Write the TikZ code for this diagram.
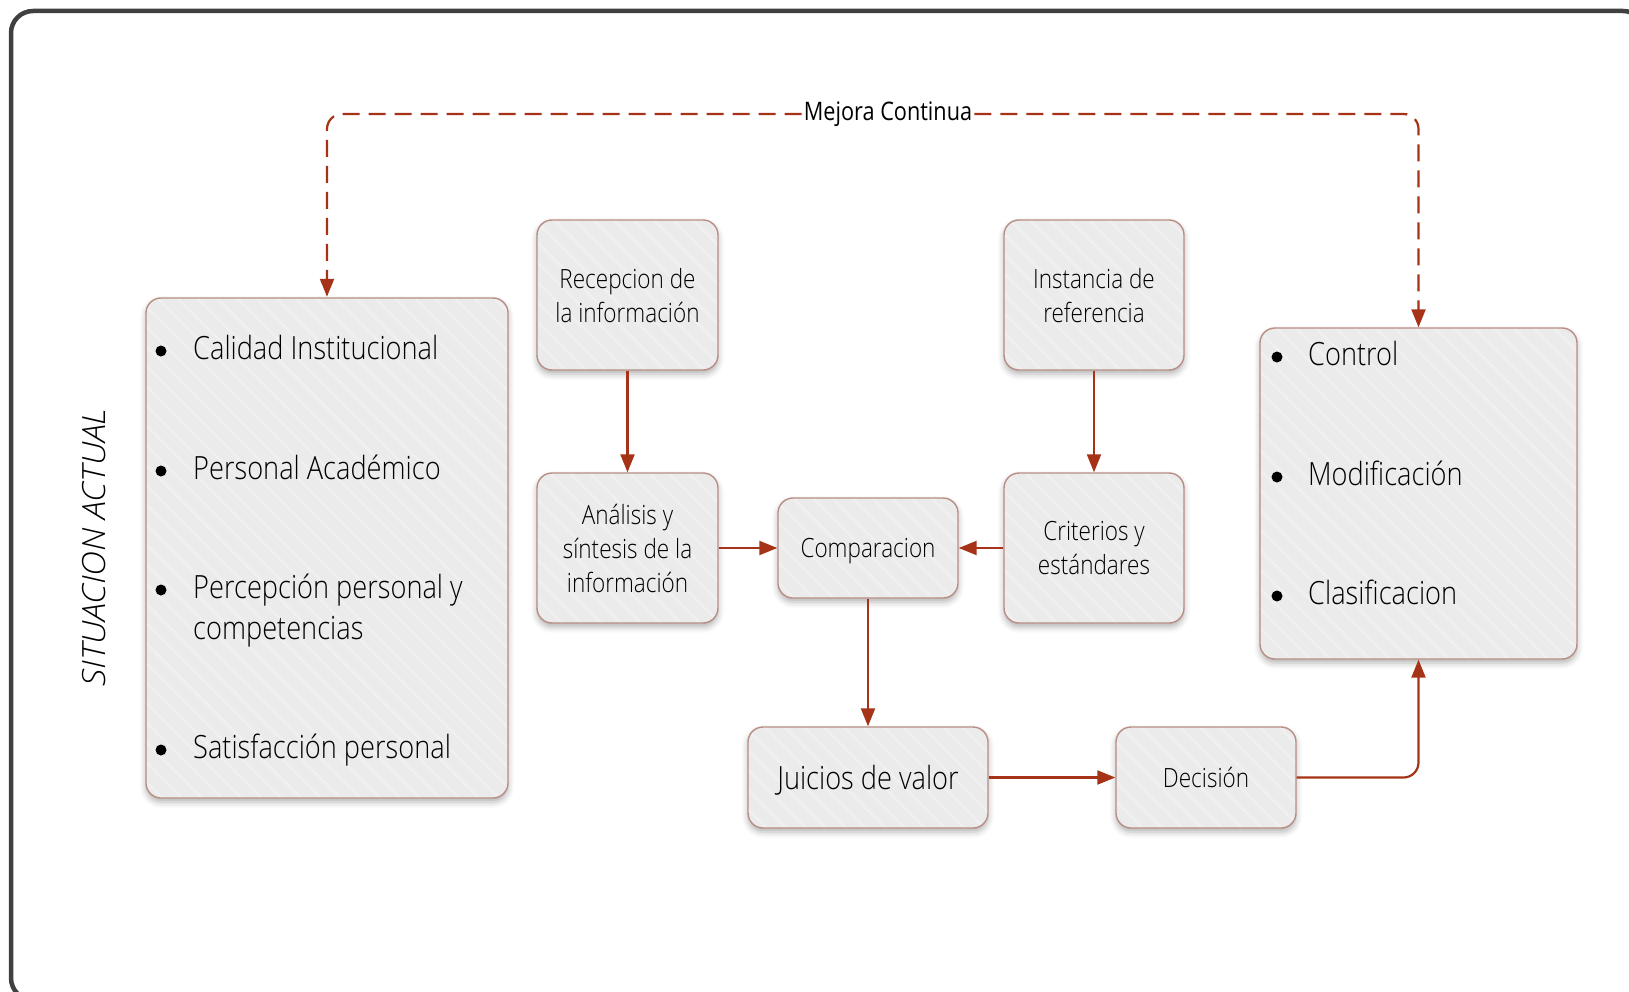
\documentclass[tikz,border=0pt]{standalone}
\usepackage{fontspec}
\setmainfont{Open Sans}[UprightFont=* Light, ItalicFont=* Light Italic, FakeStretch=0.85]
\newfontfamily\regfont{Open Sans}[FakeStretch=0.85]
\newfontfamily\rotfont{Open Sans}[UprightFont=* Light, ItalicFont=* Light Italic, FakeStretch=1.08]
\usetikzlibrary{arrows.meta,positioning,shadows.blur,patterns.meta}
\definecolor{boxfill}{RGB}{235,235,235}
\definecolor{boxstripe}{RGB}{240,240,240}
\definecolor{boxline}{RGB}{184,142,132}
\definecolor{flechacol}{RGB}{166,50,23}
\definecolor{marco}{RGB}{64,64,64}
\newcommand{\cajafont}{\fontsize{26.5}{34}\selectfont}
\newcommand{\listafont}{\fontsize{32}{41}\selectfont}
\tikzset{
	caja/.style={draw=boxline, line width=1.4pt, rounded corners=15pt,
		blur shadow={shadow xshift=0pt, shadow yshift=-4pt, shadow blur radius=6pt, shadow opacity=30},
		preaction={fill=boxfill}, pattern={Lines[angle=-45,distance=14pt,line width=2.5pt]}, pattern color=boxstripe,
		align=center, font=\cajafont, inner sep=0, text depth=0pt},
	item/.style={inner sep=0, anchor=base west, align=left, font=\listafont},
	punto/.style={circle, fill=black, inner sep=0, minimum size=11pt},
	flecha/.style={-{Triangle[width=14pt,length=18pt]}, color=flechacol, line width=2.2pt},
	mejoraflecha/.style={flecha, dash pattern=on 17pt off 9pt, rounded corners=15pt},
	etiqueta/.style={fill=white, inner xsep=2pt, font=\regfont\fontsize{25.5}{30}\selectfont},
	marcoline/.style={draw=marco, line width=4.5pt, rounded corners=22pt}
}
\begin{document}
\begin{tikzpicture}[x=1pt,y=-1pt]
	\useasboundingbox (0,0) rectangle (1629,992);
	\clip (0,0) rectangle (1629,992);
	\draw[marcoline] (11,11) rectangle (1645,1000);
	
	%%%situacion actual
	\node[rotate=90, font=\rotfont\itshape\fontsize{32}{36}\selectfont] (situ) at (94,548) {SITUACION ACTUAL};
	\node[caja, minimum width=362pt, minimum height=500pt] (sit) at (327,548) {};
	\node[punto] (p1) at (161,351) {};
	\node[item] (i1) at (193,359) {Calidad Institucional};
	\node[punto] (p2) at (161,471) {};
	\node[item] (i2) at (193,479) {Personal Académico};
	\node[punto] (p3) at (161,590) {};
	\node[item] (i3) at (193,639) {Percepción personal y\\competencias};
	\node[punto] (p4) at (161,750) {};
	\node[item] (i4) at (193,758) {Satisfacción personal};
	
	%%%proceso
	\node[caja, minimum width=181pt, minimum height=150pt] (recep) at (627.5,295) {Recepcion de\\la información};
	\node[caja, minimum width=181pt, minimum height=150pt] (anal) at (627.5,548) {Análisis y\\síntesis de la\\información};
	\node[caja, minimum width=180pt, minimum height=100pt] (comp) at (868,548) {Comparacion};
	\node[caja, minimum width=180pt, minimum height=150pt] (inst) at (1094,295) {Instancia de\\referencia};
	\node[caja, minimum width=180pt, minimum height=150pt] (crit) at (1094,548) {Criterios y\\estándares};
	\node[caja, minimum width=240pt, minimum height=101pt, font=\listafont] (juic) at (868,777.5) {Juicios de valor};
	\node[caja, minimum width=180pt, minimum height=101pt] (deci) at (1206,777.5) {Decisión};
	
	%%%acciones
	\node[caja, minimum width=317pt, minimum height=331pt] (acc) at (1418.5,493.5) {};
	\node[punto] (q1) at (1277,357) {};
	\node[item] (j1) at (1308,365) {Control};
	\node[punto] (q2) at (1277,477) {};
	\node[item] (j2) at (1308,485) {Modificación};
	\node[punto] (q3) at (1277,596) {};
	\node[item] (j3) at (1308,604) {Clasificacion};
	
	\draw[flecha] (recep) -- (anal);
	\draw[flecha] (inst) -- (crit);
	\draw[flecha] (anal) -- (comp);
	\draw[flecha] (crit) -- (comp);
	\draw[flecha] (comp) -- (juic);
	\draw[flecha] (juic) -- (deci);
	\draw[flecha, rounded corners=15pt] (deci) -| (acc);
	
	\node[etiqueta] (mejora) at (888,114) {Mejora Continua};
	\draw[mejoraflecha] (mejora.west) -| (sit.north);
	\draw[mejoraflecha] (mejora.east) -| (acc.north);
\end{tikzpicture}
\end{document}
